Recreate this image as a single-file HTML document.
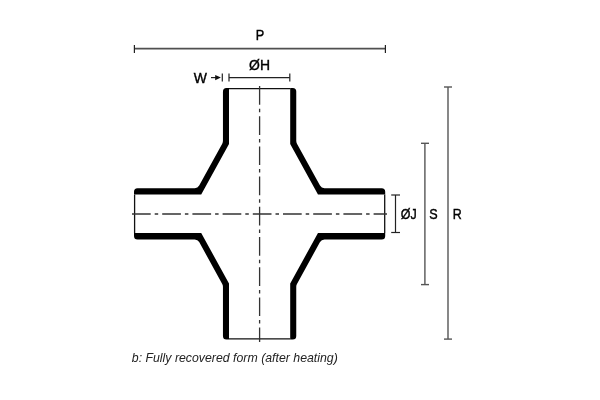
<!DOCTYPE html>
<html><head><meta charset="utf-8"><style>
html,body{margin:0;padding:0;background:#fff;width:600px;height:400px;overflow:hidden}
svg{display:block;will-change:transform}
text{font-family:"Liberation Sans",sans-serif}
</style></head><body>
<svg width="600" height="400" viewBox="0 0 600 400">
<rect width="600" height="400" fill="#fff"/>
<!-- pipe walls -->
<path d="M226.45,88.00 L229.00,88.00 L229.00,144.09 L201.22,194.60 L134.00,194.60 L134.00,191.70 Q134.00,188.20 137.50,188.20 L194.74,188.20 Q197.74,188.20 199.19,185.57 L222.23,143.68 Q222.95,142.36 222.95,140.86 L222.95,91.50 Q222.95,88.00 226.45,88.00Z M292.75,88.00 L290.20,88.00 L290.20,144.09 L317.98,194.60 L385.20,194.60 L385.20,191.70 Q385.20,188.20 381.70,188.20 L324.46,188.20 Q321.46,188.20 320.01,185.57 L296.97,143.68 Q296.25,142.36 296.25,140.86 L296.25,91.50 Q296.25,88.00 292.75,88.00Z M226.45,339.60 L229.00,339.60 L229.00,283.51 L201.22,233.00 L134.00,233.00 L134.00,235.90 Q134.00,239.40 137.50,239.40 L194.74,239.40 Q197.74,239.40 199.19,242.03 L222.23,283.92 Q222.95,285.24 222.95,286.74 L222.95,336.10 Q222.95,339.60 226.45,339.60Z M292.75,339.60 L290.20,339.60 L290.20,283.51 L317.98,233.00 L385.20,233.00 L385.20,235.90 Q385.20,239.40 381.70,239.40 L324.46,239.40 Q321.46,239.40 320.01,242.03 L296.97,283.92 Q296.25,285.24 296.25,286.74 L296.25,336.10 Q296.25,339.60 292.75,339.60Z" fill="#000"/>
<!-- thin end lines -->
<g stroke="#111" stroke-width="1.3" fill="none">
<line x1="229" y1="88.6" x2="290.2" y2="88.6"/>
<line x1="229" y1="338.9" x2="290.2" y2="338.9"/>
<line x1="134.6" y1="194.6" x2="134.6" y2="233"/>
<line x1="384.7" y1="194.6" x2="384.7" y2="233"/>
</g>
<!-- centerlines -->
<g stroke="#333" stroke-width="1.3" fill="none" stroke-dasharray="18.7 4 3.5 4">
<line x1="259.6" y1="86" x2="259.6" y2="342"/>
<line x1="132" y1="214" x2="387" y2="214"/>
</g>
<!-- dimension lines -->
<g stroke="#222" stroke-width="1.2" fill="none">
<line x1="134.4" y1="48.6" x2="385.4" y2="48.6" stroke="#505050" stroke-width="1.6"/>
<line x1="134.4" y1="45" x2="134.4" y2="53"/>
<line x1="385.4" y1="45" x2="385.4" y2="53"/>
<line x1="229" y1="77.6" x2="289.8" y2="77.6"/>
<line x1="229" y1="73.5" x2="229" y2="81.5"/>
<line x1="289.8" y1="73.5" x2="289.8" y2="81.5"/>
<line x1="222.3" y1="73.5" x2="222.3" y2="81.5"/>
<line x1="211" y1="77.6" x2="217" y2="77.6"/>
</g>
<path d="M220.9,77.6 L215.2,74.9 L215.2,80.3 Z" fill="#111"/>
<g stroke="#222" stroke-width="1.2" fill="none">
<line x1="395.5" y1="195" x2="395.5" y2="232.5"/>
<line x1="391.2" y1="195" x2="400" y2="195"/>
<line x1="391.2" y1="232.5" x2="400" y2="232.5"/>
</g>
<g stroke="#555" stroke-width="1.4" fill="none">
<line x1="424.9" y1="143.3" x2="424.9" y2="284.6"/>
<line x1="421" y1="143.3" x2="429" y2="143.3"/>
<line x1="421" y1="284.6" x2="429" y2="284.6"/>
<line x1="448" y1="87" x2="448" y2="339.1"/>
<line x1="444" y1="87" x2="452" y2="87"/>
<line x1="444" y1="339.1" x2="452" y2="339.1"/>
</g>
<g fill="#000" font-size="14.5" stroke="#000" stroke-width="0.4" text-anchor="middle">
<text transform="translate(260.0,39.8) scale(0.88,1)">P</text>
<text transform="translate(259.5,69.6) scale(0.96,1)">ØH</text>
<text transform="translate(200.3,82.5) scale(0.96,1)">W</text>
<text transform="translate(408.75,219.0) scale(0.86,1)">ØJ</text>
<text transform="translate(433.55,219.3) scale(0.87,1)">S</text>
<text transform="translate(457.25,219.3) scale(0.86,1)">R</text>
</g>
<text x="131.8" y="362.2" font-size="13.3" font-style="italic" fill="#222" textLength="206" lengthAdjust="spacingAndGlyphs">b: Fully recovered form (after heating)</text>
</svg>
</body></html>
